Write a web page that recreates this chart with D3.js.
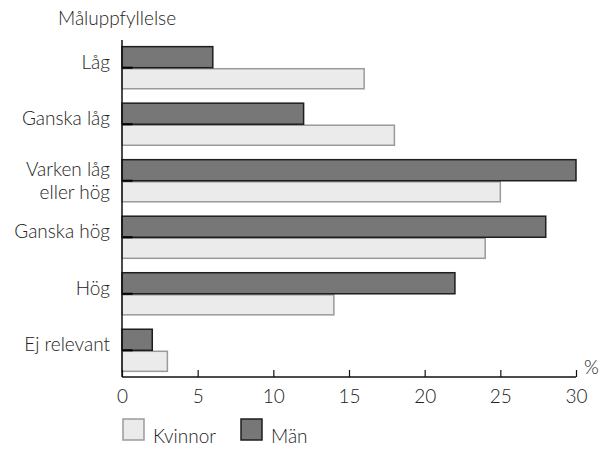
<!DOCTYPE html>
<html>
<head>
<meta charset="utf-8">
<script src="https://cdn.jsdelivr.net/npm/d3@7"></script>
<style>
  body { margin: 0; background: #fff; }
  text { font-family: Lato, "Open Sans", sans-serif; fill: #222; font-weight: 300; }
</style>
</head>
<body>
<svg id="chart"></svg>
<script>
// Måluppfyllelse, Kvinnor vs Män
const categories = ["Låg", "Ganska låg", "Varken låg|eller hög", "Ganska hög", "Hög", "Ej relevant"];
const man = [6, 12, 30, 28, 22, 2];
const kvinnor = [16, 18, 25, 24, 14, 3];
const xTicks = [0, 5, 10, 15, 20, 25, 30];

const width = 601, height = 449;
const margins = {top: 40, left: 122, right: 25, bottom: 72};
const fontSize = 19;
const svg = d3.select('#chart').attr("width", width).attr("height", height);

const xScale = d3.scaleLinear().domain([0, 30]).range([margins.left, width - margins.right]);
const yScale = d3.scaleBand().domain(categories)
  .range([41, 377]).paddingInner(0.255).paddingOuter(0.1);
const barH = yScale.bandwidth() / 2;

// Title
svg.append("text").attr("x", 58).attr("y", 25).attr("font-size", fontSize).text("Måluppfyllelse");

// Bars
const g = svg.append("g");
categories.forEach((c, i) => {
  const y0 = yScale(c);
  g.append("rect")
    .attr("x", xScale(0)).attr("y", y0 + barH + 1)
    .attr("width", xScale(kvinnor[i]) - xScale(0)).attr("height", barH - 1)
    .attr("fill", "#ebebeb").attr("stroke", "#9a9a9a").attr("stroke-width", 1.5);
  g.append("rect")
    .attr("x", xScale(0)).attr("y", y0)
    .attr("width", xScale(man[i]) - xScale(0)).attr("height", barH)
    .attr("fill", "#777").attr("stroke", "#1e1e1e").attr("stroke-width", 1.5);
  g.append("line")
    .attr("x1", xScale(0)).attr("x2", xScale(0.7))
    .attr("y1", y0 + barH).attr("y2", y0 + barH)
    .attr("stroke", "#000").attr("stroke-width", 2);

  // Category label
  const lines = c.split("|");
  const t = svg.append("text").attr("text-anchor", "end").attr("font-size", fontSize);
  const base = lines.length > 1 ? y0 + barH - 5 : y0 + barH + 1;
  lines.forEach((l, j) => {
    t.append("tspan").attr("x", 110).attr("y", base + j * 23).text(l);
  });
});

// x axis
const xAxis = d3.axisBottom(xScale).tickValues(xTicks).tickSize(-7).tickPadding(13);
const ax = svg.append("g").attr("transform", `translate(0,377)`).call(xAxis);
ax.select(".domain").attr("stroke", "#111").attr("stroke-width", 1.5).attr("d", `M${xScale(0)},0H${xScale(30)}`);
ax.selectAll(".tick line").attr("stroke", "#111").attr("stroke-width", 1.2);
ax.selectAll(".tick text").attr("font-size", fontSize).attr("font-family", "Lato, sans-serif").attr("fill", "#222");

// y axis line
svg.append("line").attr("x1", xScale(0)).attr("x2", xScale(0))
  .attr("y1", 40).attr("y2", 377).attr("stroke", "#111").attr("stroke-width", 1.5);

svg.append("text").attr("x", 584).attr("y", 374).attr("font-size", fontSize).text("%");

// Legend
const legend = [
  {label: "Kvinnor", fill: "#ebebeb", stroke: "#9a9a9a", x: 122},
  {label: "Män", fill: "#777", stroke: "#1e1e1e", x: 240}
];
legend.forEach(d => {
  svg.append("rect").attr("x", d.x + 1).attr("y", 419).attr("width", 21).attr("height", 21)
    .attr("fill", d.fill).attr("stroke", d.stroke).attr("stroke-width", 1.5);
  svg.append("text").attr("x", d.x + 31).attr("y", 443).attr("font-size", fontSize).text(d.label);
});
</script>
</body>
</html>
